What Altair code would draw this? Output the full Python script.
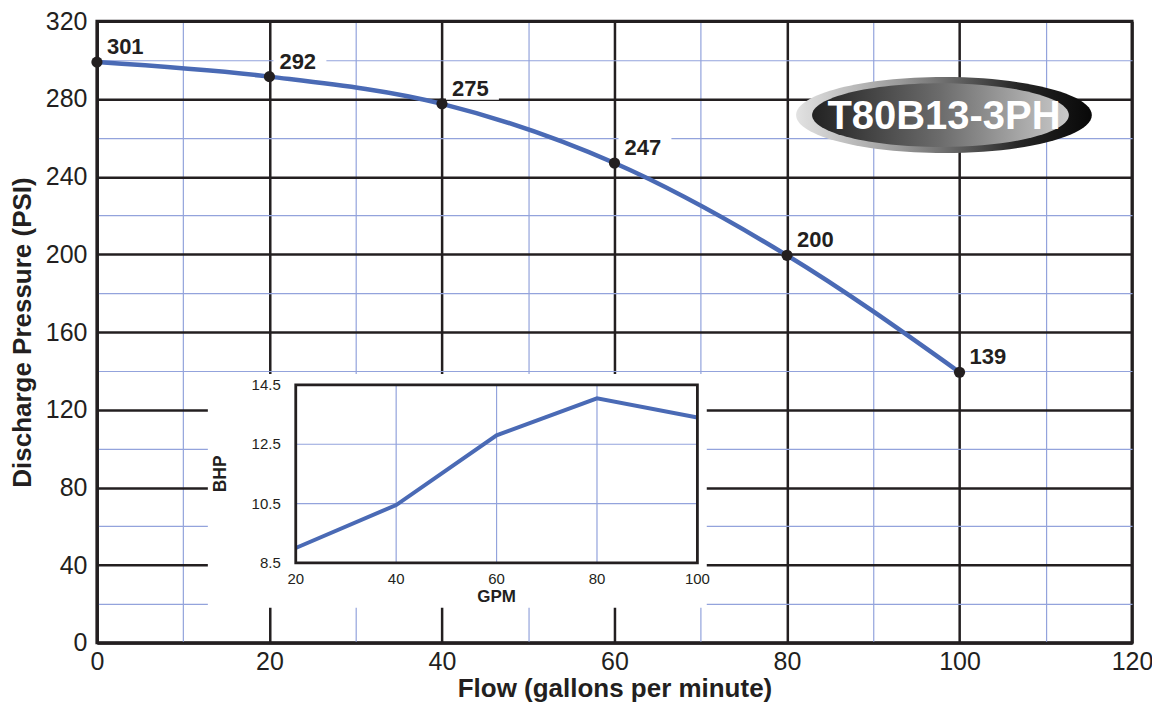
import altair as alt
import pandas as pd

# ---------------- data ----------------
flow = [0, 20, 40, 60, 80, 100]
pressure = [299, 291.5, 277.5, 247, 199.5, 139.3]
pressure_labels = ["301", "292", "275", "247", "200", "139"]

gpm = [20, 40, 60, 80, 100]
bhp = [9.0, 10.45, 12.8, 14.05, 13.4]

x_ticks = [0, 10, 20, 30, 40, 50, 60, 70, 80, 90, 100, 110, 120]
y_ticks = [0, 20, 40, 60, 80, 100, 120, 140, 160, 180, 200, 220, 240, 260, 280, 300, 320]

inset_x_ticks = [20, 40, 60, 80, 100]
inset_x_labels = ["20", "40", "60", "80", "100"]
inset_y_ticks = [8.5, 10.5, 12.5, 14.5]
inset_y_labels = ["8.5", "10.5", "12.5", "14.5"]
inset_grid_x = [40, 60, 80]
inset_grid_y = [10.5, 12.5]

badge_text = ["T80B13-3PH"]
badge_pos = {"x": [98.2], "y": [271.7]}
inset_bg = {"x": [12.86], "x2": [70.7], "y": [138.4], "y2": [18.0]}

# ---------------- style ----------------
W, H = 1036, 622
FONT = "Liberation Sans"
INK = "#231f20"
CURVE = "#4a6ab5"
GRID_BLUE = "#93a3dc"

xs = alt.Scale(domain=[0, 120], nice=False, zero=False)
ys = alt.Scale(domain=[0, 320], nice=False, zero=False)

x_axis = alt.Axis(
    values=x_ticks,
    labelExpr="datum.value % 20 === 0 ? datum.label : ''",
    grid=True,
    gridColor={"condition": {"test": "datum.value % 20 === 0", "value": INK}, "value": GRID_BLUE},
    gridWidth={"condition": {"test": "datum.value % 20 === 0", "value": 2.5}, "value": 1.2},
    ticks=False, domainColor=INK, domainWidth=3,
    labelFont=FONT, labelFontSize=25, labelColor=INK, labelPadding=7,
    labelFlush=False, labelOverlap=False,
    title="Flow (gallons per minute)", titleFont=FONT, titleFontSize=26,
    titleFontWeight="bold", titleColor=INK,
    titleX=W / 2, titleY=54, titleAlign="center", titleBaseline="alphabetic",
)
y_axis = alt.Axis(
    values=y_ticks,
    labelExpr="datum.value % 40 === 0 ? datum.label : ''",
    grid=True,
    gridColor={"condition": {"test": "datum.value % 40 === 0", "value": INK}, "value": GRID_BLUE},
    gridWidth={"condition": {"test": "datum.value % 40 === 0", "value": 2.5}, "value": 1.2},
    ticks=False, domainColor=INK, domainWidth=3,
    labelFont=FONT, labelFontSize=25, labelColor=INK, labelPadding=10,
    labelFlush=False, labelOverlap=False,
    title="Discharge Pressure (PSI)", titleFont=FONT, titleFontSize=26,
    titleFontWeight="bold", titleColor=INK,
    titleX=-66, titleY=H / 2, titleAlign="center", titleBaseline="alphabetic", titleAngle=270,
)

main_df = pd.DataFrame({"flow": flow, "pressure": pressure, "label": pressure_labels})

X = alt.X("flow:Q", scale=xs, axis=x_axis)
Y = alt.Y("pressure:Q", scale=ys, axis=y_axis)

base = alt.Chart(main_df)

bg = alt.Chart(pd.DataFrame(inset_bg)).mark_rect(fill="white").encode(
    x=alt.X("x:Q", scale=xs, axis=x_axis), x2="x2:Q",
    y=alt.Y("y:Q", scale=ys, axis=y_axis), y2="y2:Q",
)

label_boxes = base.mark_rect(fill="white", xOffset=4, x2Offset=57, yOffset=-29, y2Offset=-4).encode(
    x=X, x2="flow:Q", y=Y, y2="pressure:Q"
)

curve = base.mark_line(interpolate="monotone", color=CURVE, strokeWidth=4.5).encode(x=X, y=Y)
dots = base.mark_circle(size=125, color=INK, opacity=1).encode(x=X, y=Y)
labels = base.mark_text(
    align="left", baseline="middle", dx=10, dy=-15, font=FONT, fontSize=22,
    fontWeight="bold", color=INK,
).encode(x=X, y=Y, text="label:N")

# badge (two gradient ellipses + white text)
def ellipse_path(e):
    k = 0.5523
    return (f"M -1,0 C -1,{-k*e:.4f} {-k:.4f},{-e:.4f} 0,{-e:.4f} "
            f"C {k:.4f},{-e:.4f} 1,{-k*e:.4f} 1,0 "
            f"C 1,{k*e:.4f} {k:.4f},{e:.4f} 0,{e:.4f} "
            f"C {-k:.4f},{e:.4f} -1,{k*e:.4f} -1,0 Z")

badge_df = pd.DataFrame({"x": badge_pos["x"], "y": badge_pos["y"], "t": badge_text})
bX = alt.X("x:Q", scale=xs, axis=x_axis)
bY = alt.Y("y:Q", scale=ys, axis=y_axis)

outer_grad = {
    "gradient": "linear", "x1": 0, "y1": 0, "x2": 1, "y2": 0,
    "stops": [
        {"offset": 0, "color": "#e2e2e2"},
        {"offset": 0.35, "color": "#9a9a9a"},
        {"offset": 0.75, "color": "#262626"},
        {"offset": 1, "color": "#080808"},
    ],
}
inner_grad = {
    "gradient": "linear", "x1": 0, "y1": 0, "x2": 1, "y2": 0,
    "stops": [
        {"offset": 0, "color": "#222222"},
        {"offset": 0.5, "color": "#6c6c6c"},
        {"offset": 1, "color": "#cacaca"},
    ],
}
badge_outer = alt.Chart(badge_df).mark_point(
    shape=ellipse_path(38 / 148), size=296 ** 2, filled=True, fill=outer_grad,
    strokeWidth=0, opacity=1,
).encode(x=bX, y=bY)
badge_inner = alt.Chart(badge_df).mark_point(
    shape=ellipse_path(32 / 128.5), size=257 ** 2, filled=True, fill=inner_grad,
    strokeWidth=0, opacity=1, xOffset=-3.5,
).encode(x=bX, y=bY)
badge_label = alt.Chart(badge_df).mark_text(
    font=FONT, fontSize=40, fontWeight="bold", color="white",
    align="center", baseline="alphabetic", dy=14,
).encode(x=bX, y=bY, text="t:N")

main = alt.layer(bg, label_boxes, curve, dots, labels, badge_outer, badge_inner, badge_label)

# ---------------- inset ----------------
ixs = alt.Scale(domain=[20, 100], range=[199, 601], nice=False, zero=False)
iys = alt.Scale(domain=[8.5, 14.5], range=[542, 364], nice=False, zero=False)

inset_df = pd.DataFrame({"gpm": gpm, "bhp": bhp})

vgrid = alt.Chart(pd.DataFrame({"g": inset_grid_x, "lo": [8.5] * 3, "hi": [14.5] * 3})).mark_rule(
    color=GRID_BLUE, strokeWidth=1.2
).encode(x=alt.X("g:Q", scale=ixs, axis=None), y=alt.Y("lo:Q", scale=iys, axis=None), y2="hi:Q")
hgrid = alt.Chart(pd.DataFrame({"g": inset_grid_y, "lo": [20] * 2, "hi": [100] * 2})).mark_rule(
    color=GRID_BLUE, strokeWidth=1.2
).encode(y=alt.Y("g:Q", scale=iys, axis=None), x=alt.X("lo:Q", scale=ixs, axis=None), x2="hi:Q")
frame = alt.Chart(pd.DataFrame({"x": [20], "x2": [100], "y": [8.5], "y2": [14.5]})).mark_rect(
    fillOpacity=0, stroke=INK, strokeWidth=2.8
).encode(x=alt.X("x:Q", scale=ixs, axis=None), x2="x2:Q",
         y=alt.Y("y:Q", scale=iys, axis=None), y2="y2:Q")
bhp_line = alt.Chart(inset_df).mark_line(color=CURVE, strokeWidth=4).encode(
    x=alt.X("gpm:Q", scale=ixs, axis=None), y=alt.Y("bhp:Q", scale=iys, axis=None)
)
ylab = alt.Chart(pd.DataFrame({"v": inset_y_ticks, "t": inset_y_labels, "x": [20] * 4})).mark_text(
    align="right", baseline="middle", dx=-15, font=FONT, fontSize=15, color=INK
).encode(x=alt.X("x:Q", scale=ixs, axis=None), y=alt.Y("v:Q", scale=iys, axis=None), text="t:N")
xlab = alt.Chart(pd.DataFrame({"v": inset_x_ticks, "t": inset_x_labels, "y": [8.5] * 5})).mark_text(
    align="center", baseline="middle", dy=16, font=FONT, fontSize=15, color=INK
).encode(x=alt.X("v:Q", scale=ixs, axis=None), y=alt.Y("y:Q", scale=iys, axis=None), text="t:N")
titles = alt.Chart(pd.DataFrame({"x": [60], "y": [8.5], "t": ["GPM"]})).mark_text(
    align="center", baseline="middle", dy=34, font=FONT, fontSize=17, fontWeight="bold", color=INK
).encode(x=alt.X("x:Q", scale=ixs, axis=None), y=alt.Y("y:Q", scale=iys, axis=None), text="t:N")
ytitle = alt.Chart(pd.DataFrame({"x": [20], "y": [11.5], "t": ["BHP"]})).mark_text(
    align="center", baseline="middle", dy=-75, angle=270, font=FONT, fontSize=17.5,
    fontWeight="bold", color=INK
).encode(x=alt.X("x:Q", scale=ixs, axis=None), y=alt.Y("y:Q", scale=iys, axis=None), text="t:N")

inset = alt.layer(vgrid, hgrid, bhp_line, frame, ylab, xlab, titles, ytitle)

chart = alt.layer(main, inset).resolve_scale(x="independent", y="independent").properties(
    width=W, height=H,
    autosize=alt.AutoSizeParams(type="none"),
    padding={"left": 89, "top": 13, "right": 20, "bottom": 64},
    background="white",
).configure_view(stroke=INK, strokeWidth=3)

chart.save("out.html", embed_options={"renderer": "svg", "actions": False})
